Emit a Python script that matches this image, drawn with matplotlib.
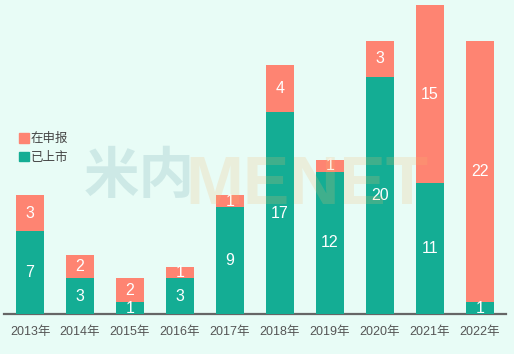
import matplotlib.pyplot as plt
from matplotlib.patches import Patch
import numpy as np

plt.rcParams['font.family'] = ['Liberation Sans', 'Noto Sans CJK SC', 'DejaVu Sans']

years = ['2013年', '2014年', '2015年', '2016年', '2017年', '2018年', '2019年', '2020年', '2021年', '2022年']
listed = [7, 3, 1, 3, 9, 17, 12, 20, 11, 1]
pending = [3, 2, 2, 1, 1, 4, 1, 3, 15, 22]

teal = '#14ad94'
salmon = '#fe8472'
bg = '#e8fcf6'

fig = plt.figure(figsize=(5.14, 3.54), dpi=100)
fig.patch.set_facecolor(bg)
ax = fig.add_axes([4 / 514, 1 - 314 / 354, 502 / 514, (314 - 5.4) / 354])
ax.set_facecolor(bg)

x = np.arange(len(years))
ax.bar(x, listed, width=0.56, color=teal, zorder=3)
ax.bar(x, pending, width=0.56, bottom=listed, color=salmon, zorder=3)

# watermark (semi-transparent, sits over the bars like the original)
fig.text(84 / 514, 1 - 177 / 354, '米内', fontsize=40, fontweight='bold', color='#70a7b0',
         alpha=0.22, va='center', ha='left', zorder=10, family=['Noto Sans CJK SC'])
fig.text(185 / 514, 1 - 204 / 354, 'MENET', fontsize=50, fontweight='bold', color='#f5b870',
         alpha=0.2, va='baseline', ha='left', zorder=10, family=['Liberation Sans'])

for i in range(len(years)):
    ax.text(x[i], listed[i] / 2, str(listed[i]), color='white', fontsize=11.5,
            ha='center', va='center', zorder=4)
    ax.text(x[i], listed[i] + pending[i] / 2, str(pending[i]), color='white', fontsize=11.5,
            ha='center', va='center', zorder=4)

ax.set_xlim(-0.52, 9.52)
ax.set_ylim(0, 26)
ax.set_xticks(x)
ax.set_xticklabels(years, fontsize=9, color='#555555')
ax.tick_params(axis='x', length=0, pad=9)
ax.set_yticks([])
for s in ['top', 'right', 'left']:
    ax.spines[s].set_visible(False)
ax.spines['bottom'].set_color('#666666')
ax.spines['bottom'].set_linewidth(1.6)

# legend
handles = [Patch(color=salmon, label='在申报'), Patch(color=teal, label='已上市')]
leg = ax.legend(handles=handles, loc='upper left', bbox_to_anchor=(8 / 514, 1 - 122 / 354),
                bbox_transform=fig.transFigure, frameon=False, fontsize=9,
                handlelength=0.8, handleheight=0.8, handletextpad=0.1, labelspacing=0.5,
                labelcolor='#444444')

fig.savefig('out.png', dpi=100, facecolor=bg)
